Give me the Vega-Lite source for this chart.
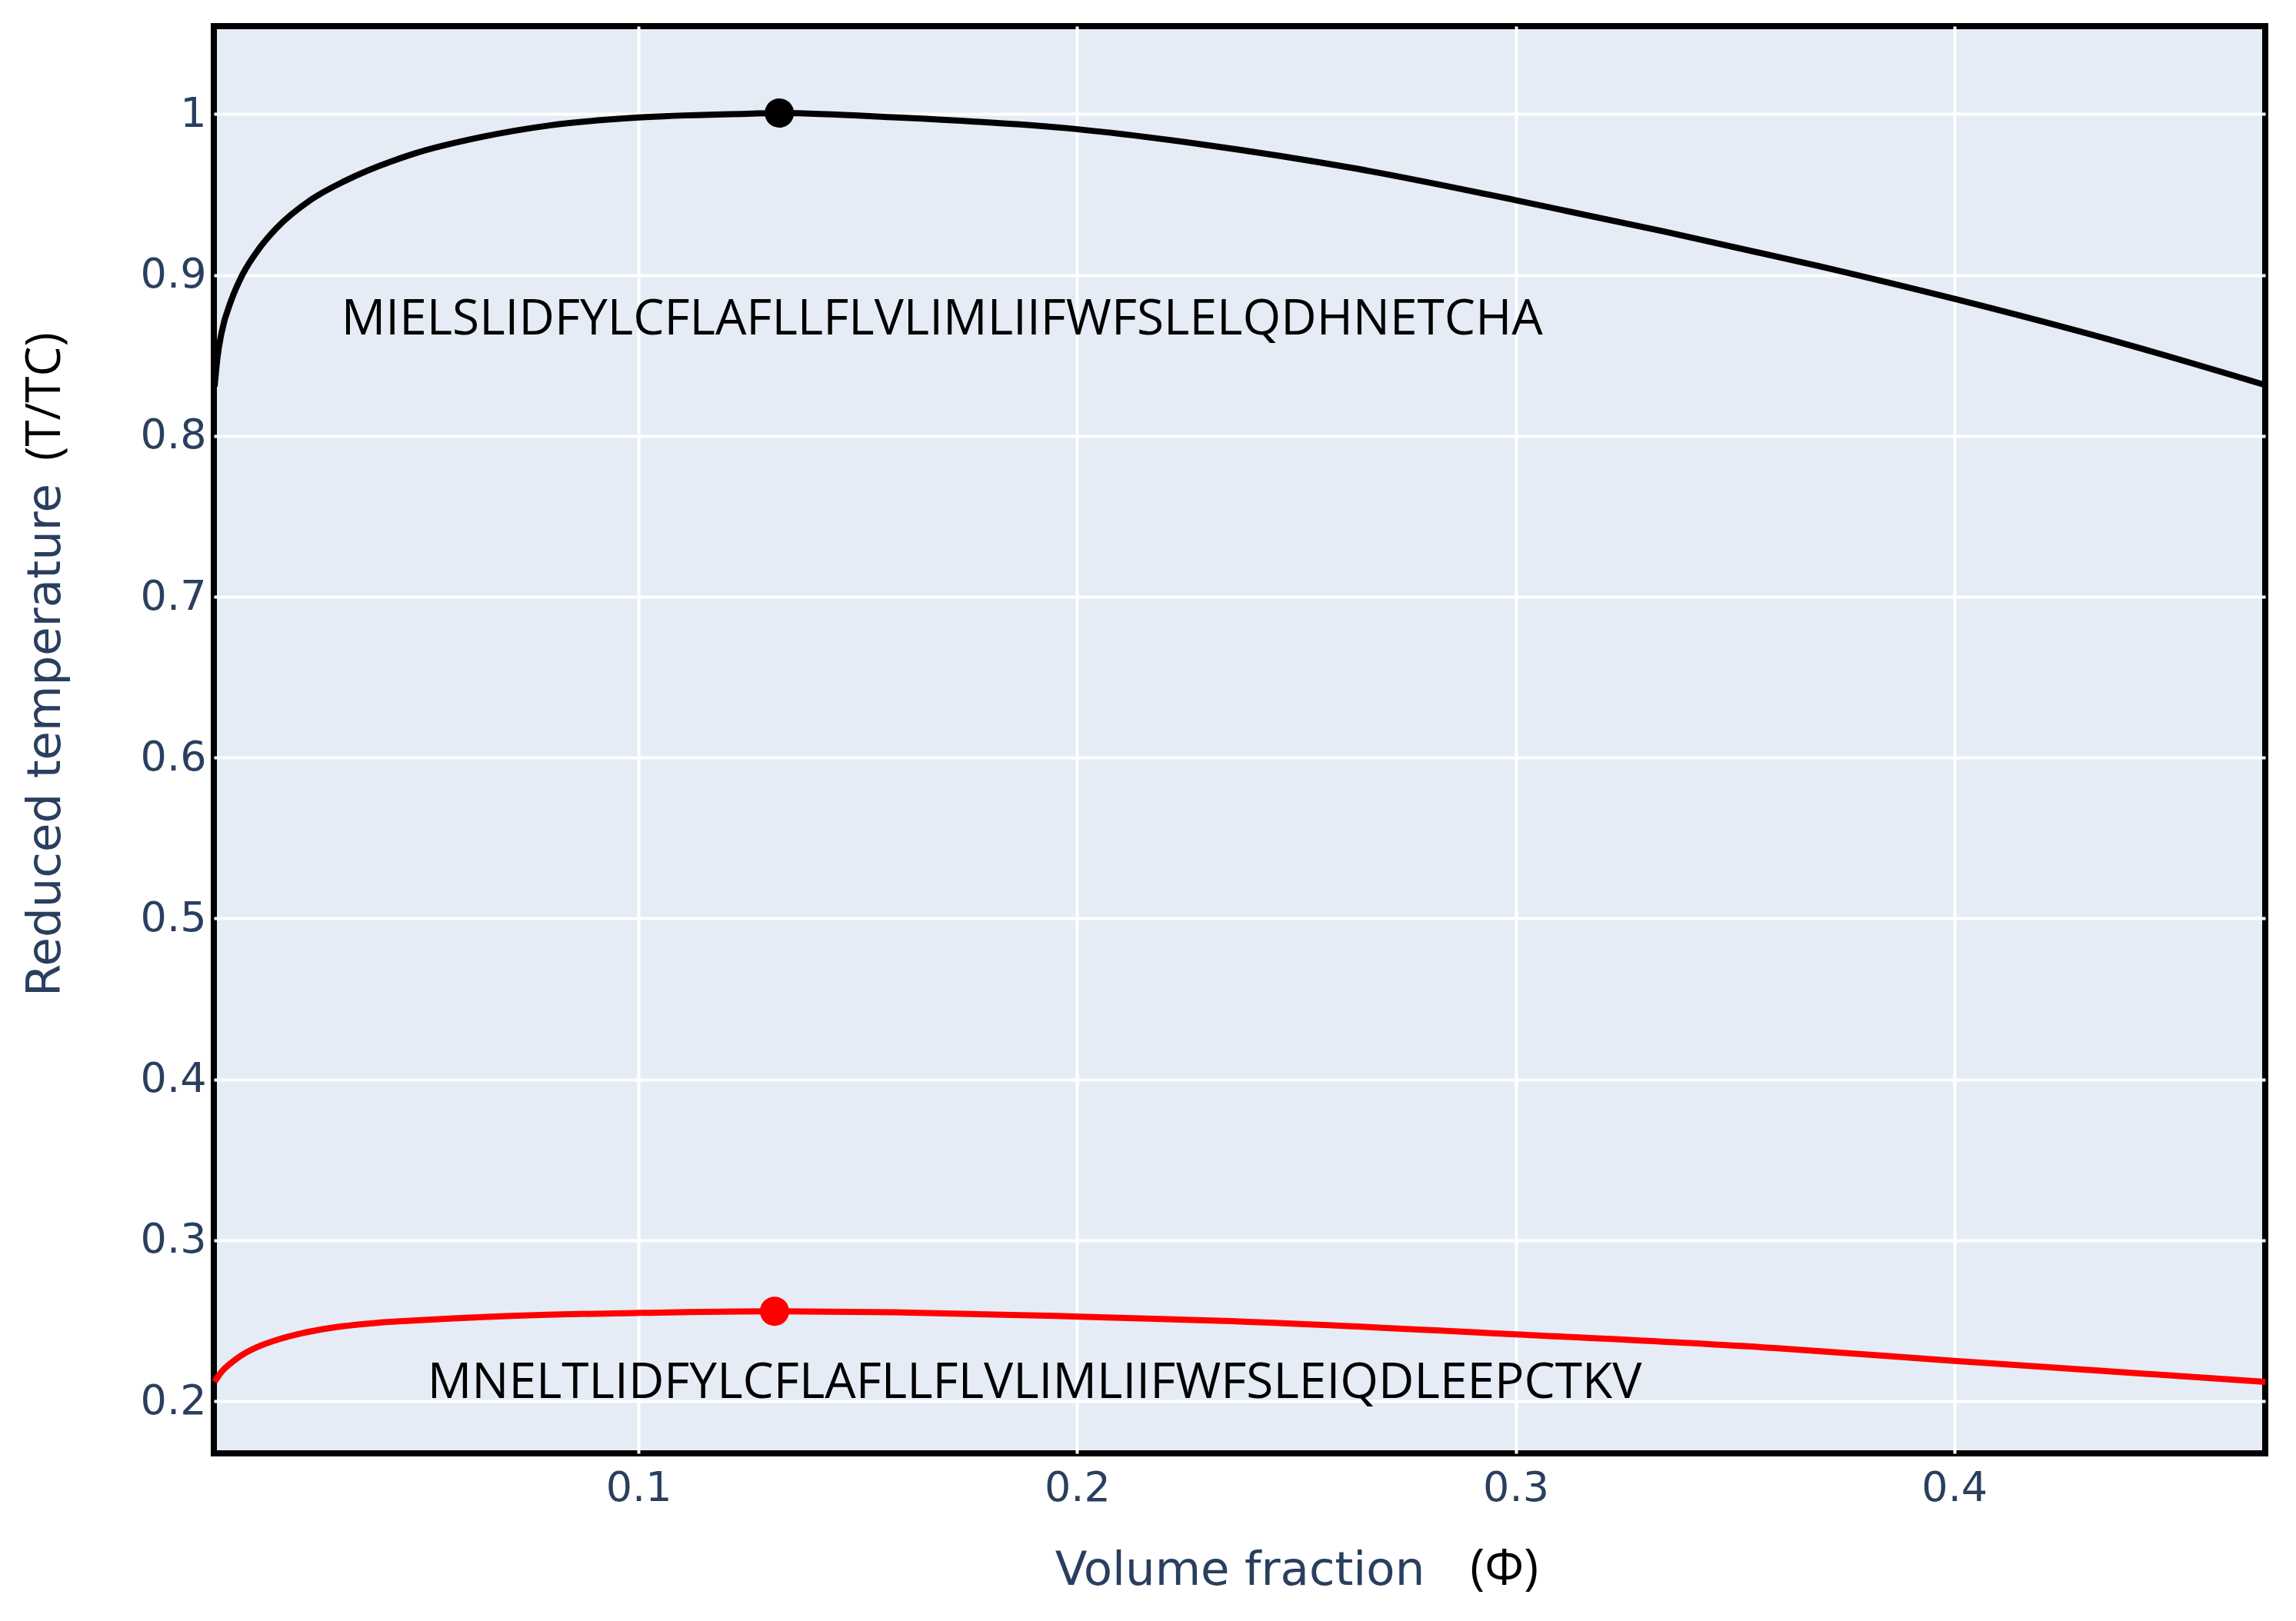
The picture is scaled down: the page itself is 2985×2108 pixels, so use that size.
{
  "$schema": "https://vega.github.io/schema/vega-lite/v6.json",
  "width": 2667,
  "height": 1856,
  "autosize": {"type": "none"},
  "padding": {"left": 278, "top": 34, "right": 40, "bottom": 218},
  "background": "white",
  "config": {
    "view": {"fill": "#e5ecf6", "stroke": "#000000", "strokeWidth": 8},
    "axis": {
      "domain": false,
      "ticks": false,
      "gridColor": "#ffffff",
      "gridWidth": 4,
      "labelFont": "DejaVu Sans",
      "labelFontSize": 54,
      "labelColor": "#2a3f5f",
      "titleFont": "DejaVu Sans",
      "titleFontSize": 61,
      "titleFontWeight": "normal",
      "titleColor": "#2a3f5f"
    }
  },
  "datasets": {
    "curves": [
      {"series": "A", "x": 0.00333, "y": 0.8307},
      {"series": "A", "x": 0.0040, "y": 0.849},
      {"series": "A", "x": 0.00491, "y": 0.864},
      {"series": "A", "x": 0.00719, "y": 0.8847},
      {"series": "A", "x": 0.00965, "y": 0.900},
      {"series": "A", "x": 0.0135, "y": 0.9165},
      {"series": "A", "x": 0.0174, "y": 0.929},
      {"series": "A", "x": 0.0253, "y": 0.9468},
      {"series": "A", "x": 0.0332, "y": 0.9587},
      {"series": "A", "x": 0.0488, "y": 0.9754},
      {"series": "A", "x": 0.0644, "y": 0.9859},
      {"series": "A", "x": 0.080, "y": 0.9931},
      {"series": "A", "x": 0.100, "y": 0.9979},
      {"series": "A", "x": 0.1246, "y": 1.0002},
      {"series": "A", "x": 0.1321, "y": 1.0007},
      {"series": "A", "x": 0.159, "y": 0.9979},
      {"series": "A", "x": 0.1998, "y": 0.9907},
      {"series": "A", "x": 0.229, "y": 0.981},
      {"series": "A", "x": 0.2639, "y": 0.966},
      {"series": "A", "x": 0.300, "y": 0.9465},
      {"series": "A", "x": 0.3339, "y": 0.927},
      {"series": "A", "x": 0.369, "y": 0.9056},
      {"series": "A", "x": 0.4004, "y": 0.8849},
      {"series": "A", "x": 0.439, "y": 0.8571},
      {"series": "A", "x": 0.4709, "y": 0.8316},
      {"series": "B", "x": 0.00333, "y": 0.212},
      {"series": "B", "x": 0.005, "y": 0.2185},
      {"series": "B", "x": 0.007, "y": 0.2235},
      {"series": "B", "x": 0.0095, "y": 0.2285},
      {"series": "B", "x": 0.013, "y": 0.2335},
      {"series": "B", "x": 0.0175, "y": 0.238},
      {"series": "B", "x": 0.023, "y": 0.242},
      {"series": "B", "x": 0.030, "y": 0.2455},
      {"series": "B", "x": 0.040, "y": 0.2485},
      {"series": "B", "x": 0.055, "y": 0.251},
      {"series": "B", "x": 0.075, "y": 0.2533},
      {"series": "B", "x": 0.1004, "y": 0.2548},
      {"series": "B", "x": 0.131, "y": 0.2558},
      {"series": "B", "x": 0.158, "y": 0.2552},
      {"series": "B", "x": 0.2007, "y": 0.2525},
      {"series": "B", "x": 0.235, "y": 0.2497},
      {"series": "B", "x": 0.300, "y": 0.2415},
      {"series": "B", "x": 0.359, "y": 0.233},
      {"series": "B", "x": 0.400, "y": 0.225},
      {"series": "B", "x": 0.4709, "y": 0.212}
    ],
    "peaks": [
      {"series": "A", "x": 0.1321, "y": 1.0007},
      {"series": "B", "x": 0.131, "y": 0.2558}
    ],
    "sequences": [
      {"t": "MIELSLIDFYLCFLAFLLFLVLIMLIIFWFSLELQDHNETCHA", "x": 0.1692, "y": 0.8632},
      {"t": "MNELTLIDFYLCFLAFLLFLVLIMLIIFWFSLEIQDLEEPCTKV", "x": 0.1903, "y": 0.2019}
    ],
    "xunit": [{"t": "(Φ)", "x": 0.2974, "y": 0.0863}],
    "yunit": [{"t": "(T/TC)", "x": -0.0319, "y": 0.8245}]
  },
  "layer": [
    {
      "data": {"name": "curves"},
      "mark": {"type": "line", "strokeWidth": 8, "interpolate": "monotone"},
      "encoding": {
        "x": {
          "field": "x", "type": "quantitative",
          "scale": {"domain": [0.00316, 0.4709], "nice": false, "zero": false},
          "axis": {"values": [0.1, 0.2, 0.3, 0.4], "format": "~g", "title": "Volume fraction", "labelPadding": 18, "titlePadding": 50}
        },
        "y": {
          "field": "y", "type": "quantitative",
          "scale": {"domain": [0.1675, 1.0547], "nice": false, "zero": false},
          "axis": {"values": [0.2, 0.3, 0.4, 0.5, 0.6, 0.7, 0.8, 0.9, 1], "format": "~g", "title": "Reduced temperature", "labelPadding": 10, "titlePadding": 92}
        },
        "color": {"field": "series", "type": "nominal", "scale": {"domain": ["A", "B"], "range": ["#000000", "#ff0000"]}, "legend": null}
      }
    },
    {
      "data": {"name": "peaks"},
      "mark": {"type": "circle", "size": 1450, "opacity": 1},
      "encoding": {
        "x": {"field": "x", "type": "quantitative"},
        "y": {"field": "y", "type": "quantitative"},
        "color": {"field": "series", "type": "nominal", "legend": null}
      }
    },
    {
      "data": {"name": "sequences"},
      "mark": {"type": "text", "font": "Open Sans", "fontSize": 64, "align": "center", "baseline": "alphabetic", "color": "#000000"},
      "encoding": {
        "x": {"field": "x", "type": "quantitative"},
        "y": {"field": "y", "type": "quantitative"},
        "text": {"field": "t"}
      }
    },
    {
      "data": {"name": "xunit"},
      "mark": {"type": "text", "font": "Open Sans", "fontSize": 64, "align": "center", "baseline": "alphabetic", "color": "#000000"},
      "encoding": {
        "x": {"field": "x", "type": "quantitative"},
        "y": {"field": "y", "type": "quantitative"},
        "text": {"field": "t"}
      }
    },
    {
      "data": {"name": "yunit"},
      "mark": {"type": "text", "font": "Open Sans", "fontSize": 62, "align": "center", "baseline": "alphabetic", "angle": 270, "color": "#000000"},
      "encoding": {
        "x": {"field": "x", "type": "quantitative"},
        "y": {"field": "y", "type": "quantitative"},
        "text": {"field": "t"}
      }
    }
  ]
}
